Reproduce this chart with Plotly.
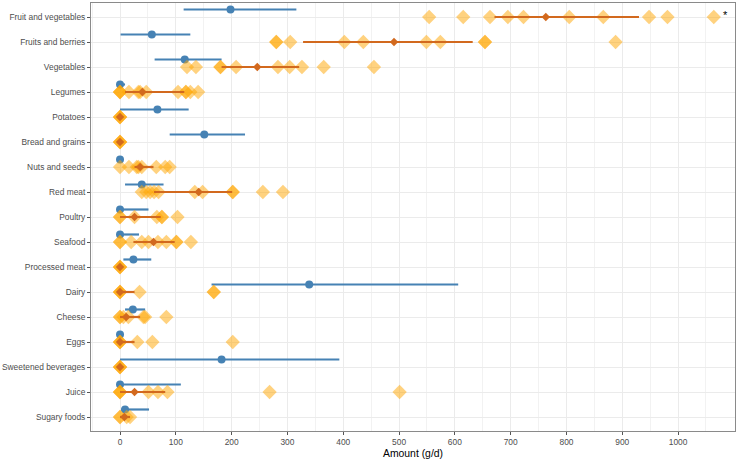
import plotly.graph_objects as go

categories = [
    "Fruit and vegetables", "Fruits and berries", "Vegetables", "Legumes",
    "Potatoes", "Bread and grains", "Nuts and seeds", "Red meat", "Poultry",
    "Seafood", "Processed meat", "Dairy", "Cheese", "Eggs",
    "Sweetened beverages", "Juice", "Sugary foods",
]

# Blue series: point estimate with range
blue_est = [198, 57, 116, 0, 67, 151, 0, 39, 0, 0, 24, 339, 23, 0, 182, 0, 9]
blue_lo = [114, 1, 62, 0, 0, 89, 0, 9, 0, 0, 6, 164, 9, 0, 0, 0, 2]
blue_hi = [316, 126, 182, 9, 123, 224, 0, 78, 51, 34, 56, 606, 45, 0, 393, 109, 52]

# Orange series: summary value with range
orange_mid = [763, 491, 246, 40, 0, 0, 36, 141, 26, 60, 0, 0, 11, 0, 0, 26, 8]
orange_lo = [671, 328, 182, 9, 0, 0, 26, 61, 0, 24, 0, 0, 0, 0, 0, 0, 0]
orange_hi = [930, 632, 321, 115, 0, 0, 60, 201, 73, 98, 0, 26, 36, 26, 0, 81, 18]

# Orange series: individual values
orange_points = [
    [554, 615, 663, 695, 723, 805, 866, 948, 981, 1064],
    [280, 280, 305, 402, 436, 549, 574, 654, 654, 888],
    [120, 136, 180, 180, 208, 283, 304, 326, 365, 455],
    [0, 0, 0, 16, 33, 36, 47, 104, 118, 118, 126, 140],
    [0, 0, 0],
    [0, 0, 0],
    [0, 16, 30, 33, 39, 65, 81, 89],
    [39, 47, 54, 61, 69, 134, 148, 202, 202, 256, 292],
    [0, 0, 26, 66, 75, 75, 103],
    [0, 0, 20, 39, 51, 68, 83, 101, 101, 127],
    [0, 0, 0],
    [0, 0, 0, 35, 168, 168],
    [0, 0, 6, 15, 42, 45, 83],
    [0, 0, 0, 31, 58, 202],
    [0, 0, 0],
    [0, 0, 0, 51, 68, 85, 268, 501],
    [0, 0, 12, 18],
]

x_ticks = list(range(0, 1001, 100))
x_minor = list(range(-50, 1101, 100))
star_row = 0
star_text = "*"

BLUE = "#4682B4"
DARK = "#D2691E"
LIGHT = "#FFA500"
FONT = "Liberation Sans, Arial, sans-serif"

n = len(categories)
ypos = [n - 1 - i for i in range(n)]
blue_off = 0.3

fig = go.Figure()

# blue ranges
bx, by = [], []
for lo, hi, y in zip(blue_lo, blue_hi, ypos):
    bx += [lo, hi, None]
    by += [y + blue_off, y + blue_off, None]
fig.add_trace(go.Scatter(x=bx, y=by, mode="lines",
                         line=dict(color=BLUE, width=2.2), hoverinfo="skip"))
fig.add_trace(go.Scatter(x=blue_est, y=[y + blue_off for y in ypos], mode="markers",
                         marker=dict(color=BLUE, size=8, line=dict(width=0))))

# orange individual points
px, py = [], []
for pts, y in zip(orange_points, ypos):
    px += pts
    py += [y] * len(pts)
fig.add_trace(go.Scatter(x=px, y=py, mode="markers",
                         marker=dict(symbol="diamond", size=11, color=LIGHT,
                                     opacity=0.5, line=dict(width=0))))

# orange ranges
ox, oy = [], []
for lo, hi, y in zip(orange_lo, orange_hi, ypos):
    ox += [lo, hi, None]
    oy += [y, y, None]
fig.add_trace(go.Scatter(x=ox, y=oy, mode="lines",
                         line=dict(color=DARK, width=2.2), hoverinfo="skip"))
fig.add_trace(go.Scatter(x=orange_mid, y=ypos, mode="markers",
                         marker=dict(symbol="diamond", size=6.5, color=DARK,
                                     line=dict(width=0))))

fig.add_annotation(x=max(orange_points[star_row]) + 21, y=ypos[star_row] + 0.1,
                   text=star_text, showarrow=False,
                   font=dict(family=FONT, size=11, color="black"))

axis_common = dict(
    showline=True, mirror=True, linecolor="#8A8A8A", linewidth=1,
    ticks="outside", ticklen=3, tickcolor="#555555", tickwidth=1,
    tickfont=dict(family=FONT, size=8.4, color="#4D4D4D"),
    showgrid=True, gridcolor="#EBEBEB", gridwidth=1, zeroline=False,
)

fig.update_layout(
    width=738, height=460,
    margin=dict(l=89, r=2, t=2, b=29),
    paper_bgcolor="white", plot_bgcolor="white",
    showlegend=False,
    font=dict(family=FONT),
    xaxis=dict(
        range=[-52, 1102], tickvals=x_ticks,
        minor=dict(tickvals=x_minor, showgrid=True, gridcolor="#F2F2F2",
                   gridwidth=1, ticks=""),
        title=dict(text="Amount (g/d)", font=dict(family=FONT, size=10.4, color="black"),
                   standoff=3),
        **axis_common,
    ),
    yaxis=dict(
        range=[-0.56, n - 1 + 0.56], tickvals=ypos, ticktext=categories,
        **axis_common,
    ),
)

fig.write_html("out.html")
